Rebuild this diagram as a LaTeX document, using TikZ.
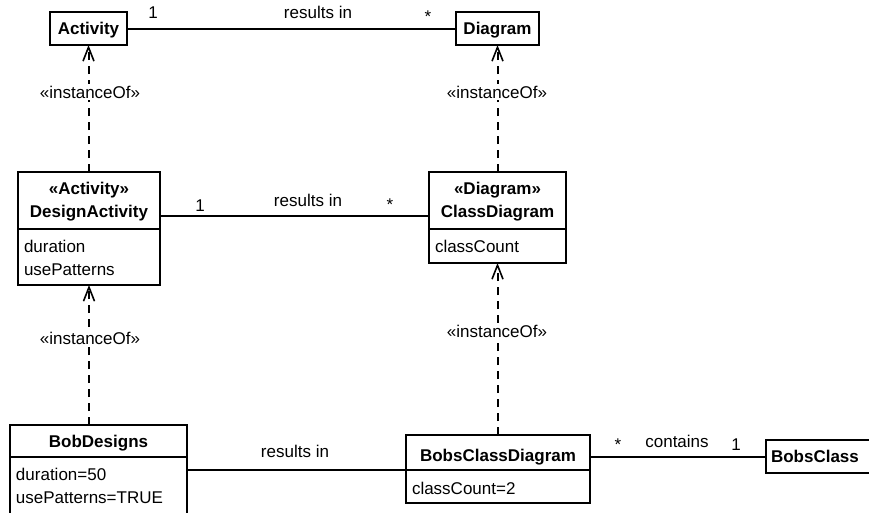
\documentclass[tikz,border=0pt]{standalone}
\usepackage{fontspec}
\setmainfont{Liberation Sans}
\usetikzlibrary{arrows.meta}
\begin{document}
\begin{tikzpicture}[x=1pt,y=-1pt,
  every node/.style={font=\fontsize{17}{20}\selectfont, inner sep=0pt, outer sep=0pt},
  box/.style={draw, line width=1.6pt, minimum width=#1, rectangle},
  assoc/.style={line width=2pt},
  inst/.style={line width=2pt, dash pattern=on 8pt off 6pt, -{Straight Barb[length=14pt,width=11pt,line width=1.6pt]}},
  stereo/.style={fill=white, inner sep=2pt, anchor=base},
  lbl/.style={anchor=base},
  attr/.style={anchor=base west},
  hdr/.style={anchor=base, font=\fontsize{17}{20}\selectfont\bfseries},
  divider/.style={line width=2pt}
]
\useasboundingbox (0,0) rectangle (869,512);
\begin{scope}
\clip (0,0) rectangle (869,512);
% boxes
\node[box=77pt, minimum height=33pt] (act) at (88.5,28.5) {};
\node[box=83pt, minimum height=33pt] (dia) at (497.5,28.5) {};
\node[box=142pt, minimum height=113pt] (da) at (89,228.5) {};
\node[box=137pt, minimum height=91pt] (cd) at (497.5,217.5) {};
\node[box=177pt, minimum height=92pt] (bd) at (98.5,471) {};
\node[box=184pt, minimum height=68pt] (bcd) at (498,469) {};
\node[box=109pt, minimum height=33pt] (bc) at (820.5,456.5) {};

% dividers
\coordinate (dv1) at (0,229);
\coordinate (dv2) at (0,457);
\coordinate (dv3) at (0,470);
\draw[divider] (da.west |- dv1) -- (da.east |- dv1);
\draw[divider] (cd.west |- dv1) -- (cd.east |- dv1);
\draw[divider] (bd.west |- dv2) -- (bd.east |- dv2);
\draw[divider] (bcd.west |- dv3) -- (bcd.east |- dv3);

% box texts
\node[hdr] (tact) at (88.5,34) {Activity};
\node[hdr] (tdia) at (497.5,34) {Diagram};
\node[hdr] (tdas) at (89,194) {«Activity»};
\node[hdr] (tdan) at (89,217) {DesignActivity};
\node[attr] (tda1) at (24,252) {duration};
\node[attr] (tda2) at (24,275) {usePatterns};
\node[hdr] (tcds) at (497.5,194) {«Diagram»};
\node[hdr] (tcdn) at (497.5,217) {ClassDiagram};
\node[attr] (tcd1) at (435,252) {classCount};
\node[hdr] (tbdn) at (98.5,447) {BobDesigns};
\node[attr] (tbd1) at (16,480) {duration=50};
\node[attr] (tbd2) at (16,503) {usePatterns=TRUE};
\node[hdr] (tbcdn) at (498,461) {BobsClassDiagram};
\node[attr] (tbcd1) at (412,494) {classCount=2};
\node[hdr, anchor=base west] (tbc) at (771,462) {BobsClass};

% associations
\draw[assoc] (act.east) -- (dia.west);
\coordinate (l2) at (0,216);
\draw[assoc] (da.east |- l2) -- (cd.west |- l2);
\coordinate (l3) at (0,470);
\draw[assoc] (bd.east |- l3) -- (bcd.west |- l3);
\draw[assoc] (bcd.east |- bc.west) -- (bc.west);

% association labels
\node[lbl] (m1a) at (153,18) {1};
\node[lbl] (r1) at (318,18) {results in};
\node[lbl] (m1b) at (428,22) {*};
\node[lbl] (m2a) at (200,211) {1};
\node[lbl] (r2) at (308,206) {results in};
\node[lbl] (m2b) at (390,210) {*};
\node[lbl] (r3) at (295,457) {results in};
\node[lbl] (m4a) at (618,450) {*};
\node[lbl] (r4) at (677,447) {contains};
\node[lbl] (m4b) at (736,450) {1};

% instanceOf dependencies
\draw[inst] (da.north -| act.south) -- (act.south);
\draw[inst] (cd.north -| dia.south) -- (dia.south);
\draw[inst] (bd.north -| da.south) -- (da.south);
\draw[inst] (bcd.north -| cd.south) -- (cd.south);
\node[stereo] (s1) at (90,98) {«instanceOf»};
\node[stereo] (s2) at (497,98) {«instanceOf»};
\node[stereo] (s3) at (90,344) {«instanceOf»};
\node[stereo] (s4) at (497,337) {«instanceOf»};
\end{scope}
\end{tikzpicture}
\end{document}
